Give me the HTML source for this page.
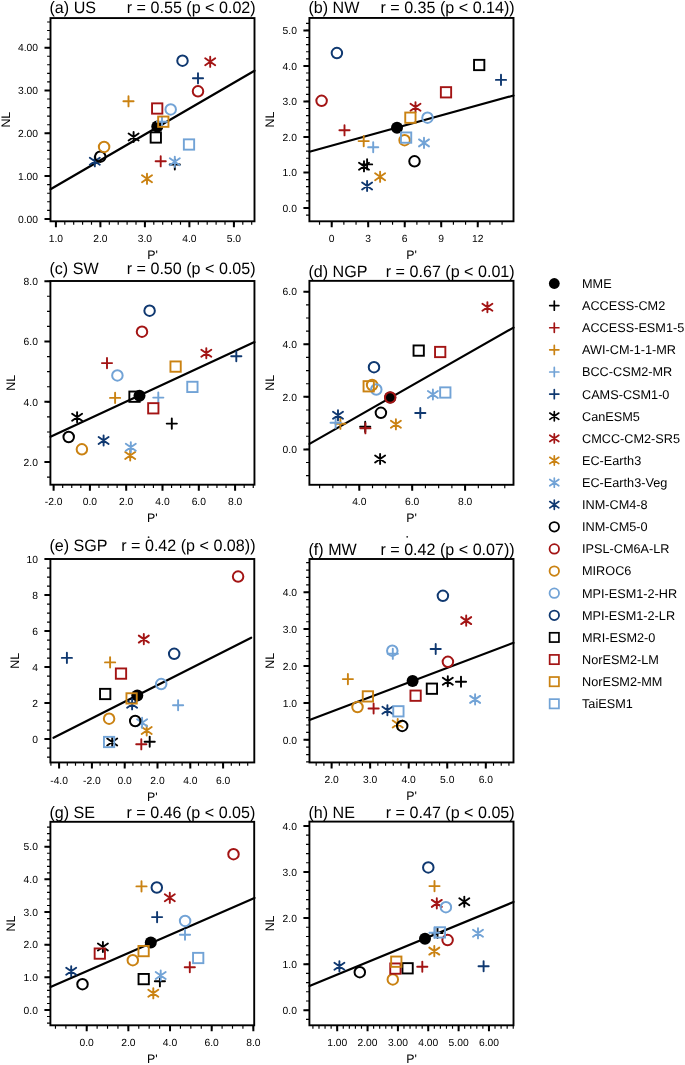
<!DOCTYPE html>
<html><head><meta charset="utf-8"><title>NL vs P</title><style>html,body{margin:0;padding:0;background:#fff;overflow:hidden;}svg{display:block;will-change:transform;}text{font-family:"Liberation Sans",sans-serif;text-rendering:geometricPrecision;}</style></head><body><svg width="685" height="1065" viewBox="0 0 685 1065" font-family='"Liberation Sans", sans-serif'><line x1="50.5" y1="189.3" x2="254.5" y2="70.7" stroke="#000" stroke-width="2.2" stroke-linecap="round"/><circle cx="157.3" cy="126.6" r="6" fill="#000000"/><path d="M169.7 164.5H179.9M174.8 159.4V169.6" stroke="#000000" stroke-width="1.9" stroke-linecap="round" fill="none"/><path d="M155.6 161.3H165.8M160.7 156.2V166.4" stroke="#a31414" stroke-width="1.9" stroke-linecap="round" fill="none"/><path d="M123.4 101.3H133.6M128.5 96.2V106.4" stroke="#ca8212" stroke-width="1.9" stroke-linecap="round" fill="none"/><path d="M156.9 121.7H167.1M162 116.6V126.8" stroke="#72a3d6" stroke-width="1.9" stroke-linecap="round" fill="none"/><path d="M192.9 78.3H203.1M198 73.2V83.4" stroke="#0f3870" stroke-width="1.9" stroke-linecap="round" fill="none"/><path d="M133.6 131.9V142.1M128.6 133.5L138.6 140.5M128.6 140.5L138.6 133.5" stroke="#000000" stroke-width="1.9" stroke-linecap="round" fill="none"/><path d="M210.2 56.7V66.9M205.2 58.3L215.2 65.3M205.2 65.3L215.2 58.3" stroke="#a31414" stroke-width="1.9" stroke-linecap="round" fill="none"/><path d="M147 173.7V183.9M142 175.3L152 182.3M142 182.3L152 175.3" stroke="#ca8212" stroke-width="1.9" stroke-linecap="round" fill="none"/><path d="M174.8 156.7V166.9M169.8 158.3L179.8 165.3M169.8 165.3L179.8 158.3" stroke="#72a3d6" stroke-width="1.9" stroke-linecap="round" fill="none"/><path d="M94.8 156.2V166.4M89.8 157.8L99.8 164.8M89.8 164.8L99.8 157.8" stroke="#0f3870" stroke-width="1.9" stroke-linecap="round" fill="none"/><circle cx="100.3" cy="156.7" r="5.25" stroke="#000000" stroke-width="2" fill="none"/><circle cx="198" cy="91.3" r="5.25" stroke="#a31414" stroke-width="2" fill="none"/><circle cx="104.1" cy="146.9" r="5.25" stroke="#ca8212" stroke-width="2" fill="none"/><circle cx="170.7" cy="109.4" r="5.25" stroke="#72a3d6" stroke-width="2" fill="none"/><circle cx="182.5" cy="60.7" r="5.25" stroke="#0f3870" stroke-width="2" fill="none"/><rect x="150.65" y="132.35" width="10.3" height="10.3" stroke="#000000" stroke-width="1.9" fill="none"/><rect x="152.05" y="103.35" width="10.3" height="10.3" stroke="#a31414" stroke-width="1.9" fill="none"/><rect x="158.15" y="116.55" width="10.3" height="10.3" stroke="#ca8212" stroke-width="1.9" fill="none"/><rect x="183.85" y="139.35" width="10.3" height="10.3" stroke="#72a3d6" stroke-width="1.9" fill="none"/><path d="M50.5 218.9H44.5M50.5 176.09H44.5M50.5 133.28H44.5M50.5 90.47H44.5M50.5 47.66H44.5M55.9 221.3V227.3M100.4 221.3V227.3M144.9 221.3V227.3M189.4 221.3V227.3M233.9 221.3V227.3" stroke="#000" stroke-width="2.0" fill="none"/><path d="M50.5 218.9H47.1M50.5 210.34H47.1M50.5 201.78H47.1M50.5 193.21H47.1M50.5 184.65H47.1M50.5 176.09H47.1M50.5 167.53H47.1M50.5 158.97H47.1M50.5 150.4H47.1M50.5 141.84H47.1M50.5 133.28H47.1M50.5 124.72H47.1M50.5 116.16H47.1M50.5 107.59H47.1M50.5 99.03H47.1M50.5 90.47H47.1M50.5 81.91H47.1M50.5 73.35H47.1M50.5 64.78H47.1M50.5 56.22H47.1M50.5 47.66H47.1M50.5 39.1H47.1M50.5 30.54H47.1M50.5 21.97H47.1M55.9 221.3V224.7M64.8 221.3V224.7M73.7 221.3V224.7M82.6 221.3V224.7M91.5 221.3V224.7M100.4 221.3V224.7M109.3 221.3V224.7M118.2 221.3V224.7M127.1 221.3V224.7M136 221.3V224.7M144.9 221.3V224.7M153.8 221.3V224.7M162.7 221.3V224.7M171.6 221.3V224.7M180.5 221.3V224.7M189.4 221.3V224.7M198.3 221.3V224.7M207.2 221.3V224.7M216.1 221.3V224.7M225 221.3V224.7M233.9 221.3V224.7M242.8 221.3V224.7M251.7 221.3V224.7" stroke="#000" stroke-width="1.15" fill="none"/><rect x="50.5" y="18.07" width="204" height="203.23" stroke="#000" stroke-width="1.9" fill="none"/><g fill="#000"><text x="38" y="222.6" text-anchor="end" font-size="10.3">0.00</text><text x="38" y="179.79" text-anchor="end" font-size="10.3">1.00</text><text x="38" y="136.98" text-anchor="end" font-size="10.3">2.00</text><text x="38" y="94.17" text-anchor="end" font-size="10.3">3.00</text><text x="38" y="51.36" text-anchor="end" font-size="10.3">4.00</text><text x="55.9" y="242.2" text-anchor="middle" font-size="10.3">1.0</text><text x="100.4" y="242.2" text-anchor="middle" font-size="10.3">2.0</text><text x="144.9" y="242.2" text-anchor="middle" font-size="10.3">3.0</text><text x="189.4" y="242.2" text-anchor="middle" font-size="10.3">4.0</text><text x="233.9" y="242.2" text-anchor="middle" font-size="10.3">5.0</text></g><text x="152.5" y="259.2" text-anchor="middle" font-size="12.4" fill="#000">P'</text><text transform="translate(9.6 119.69) rotate(-90)" x="0" y="0" text-anchor="middle" font-size="12.4" fill="#000">NL</text><text transform="translate(49.5 13.4) scale(0.976 1)" font-size="16.5" fill="#000">(a) US</text><text transform="translate(255.7 13.4) scale(0.976 1)" text-anchor="end" font-size="16.5" fill="#000">r = 0.55 (p &lt; 0.02)</text><line x1="309.5" y1="151.8" x2="513.5" y2="95.5" stroke="#000" stroke-width="2.2" stroke-linecap="round"/><circle cx="397" cy="127.8" r="6" fill="#000000"/><path d="M362 164.4H372.2M367.1 159.3V169.5" stroke="#000000" stroke-width="1.9" stroke-linecap="round" fill="none"/><path d="M339.4 130.3H349.6M344.5 125.2V135.4" stroke="#a31414" stroke-width="1.9" stroke-linecap="round" fill="none"/><path d="M358.6 141.1H368.8M363.7 136V146.2" stroke="#ca8212" stroke-width="1.9" stroke-linecap="round" fill="none"/><path d="M368.1 147.2H378.3M373.2 142.1V152.3" stroke="#72a3d6" stroke-width="1.9" stroke-linecap="round" fill="none"/><path d="M495.9 79.9H506.1M501 74.8V85" stroke="#0f3870" stroke-width="1.9" stroke-linecap="round" fill="none"/><path d="M364 161.2V171.4M359 162.8L369 169.8M359 169.8L369 162.8" stroke="#000000" stroke-width="1.9" stroke-linecap="round" fill="none"/><path d="M415.5 102.1V112.3M410.5 103.7L420.5 110.7M410.5 110.7L420.5 103.7" stroke="#a31414" stroke-width="1.9" stroke-linecap="round" fill="none"/><path d="M380.1 171.7V181.9M375.1 173.3L385.1 180.3M375.1 180.3L385.1 173.3" stroke="#ca8212" stroke-width="1.9" stroke-linecap="round" fill="none"/><path d="M424 137.8V148M419 139.4L429 146.4M419 146.4L429 139.4" stroke="#72a3d6" stroke-width="1.9" stroke-linecap="round" fill="none"/><path d="M367.1 180.9V191.1M362.1 182.5L372.1 189.5M362.1 189.5L372.1 182.5" stroke="#0f3870" stroke-width="1.9" stroke-linecap="round" fill="none"/><circle cx="414.5" cy="161.3" r="5.25" stroke="#000000" stroke-width="2" fill="none"/><circle cx="321.6" cy="100.8" r="5.25" stroke="#a31414" stroke-width="2" fill="none"/><circle cx="404.6" cy="140.2" r="5.25" stroke="#ca8212" stroke-width="2" fill="none"/><circle cx="427.5" cy="117.7" r="5.25" stroke="#72a3d6" stroke-width="2" fill="none"/><circle cx="336.9" cy="53.1" r="5.25" stroke="#0f3870" stroke-width="2" fill="none"/><rect x="474.05" y="59.85" width="10.3" height="10.3" stroke="#000000" stroke-width="1.9" fill="none"/><rect x="440.85" y="87.15" width="10.3" height="10.3" stroke="#a31414" stroke-width="1.9" fill="none"/><rect x="405.25" y="112.55" width="10.3" height="10.3" stroke="#ca8212" stroke-width="1.9" fill="none"/><rect x="400.95" y="132.45" width="10.3" height="10.3" stroke="#72a3d6" stroke-width="1.9" fill="none"/><path d="M309.4 208H303.4M309.4 172.48H303.4M309.4 136.96H303.4M309.4 101.44H303.4M309.4 65.92H303.4M309.4 30.4H303.4M331.7 221.3V227.3M368.21 221.3V227.3M404.72 221.3V227.3M441.23 221.3V227.3M477.74 221.3V227.3" stroke="#000" stroke-width="2.0" fill="none"/><path d="M309.4 215.1H306M309.4 208H306M309.4 200.9H306M309.4 193.79H306M309.4 186.69H306M309.4 179.58H306M309.4 172.48H306M309.4 165.38H306M309.4 158.27H306M309.4 151.17H306M309.4 144.06H306M309.4 136.96H306M309.4 129.86H306M309.4 122.75H306M309.4 115.65H306M309.4 108.54H306M309.4 101.44H306M309.4 94.34H306M309.4 87.23H306M309.4 80.13H306M309.4 73.02H306M309.4 65.92H306M309.4 58.82H306M309.4 51.71H306M309.4 44.61H306M309.4 37.5H306M309.4 30.4H306M309.4 23.3H306M319.53 221.3V224.7M331.7 221.3V224.7M343.87 221.3V224.7M356.04 221.3V224.7M368.21 221.3V224.7M380.38 221.3V224.7M392.55 221.3V224.7M404.72 221.3V224.7M416.89 221.3V224.7M429.06 221.3V224.7M441.23 221.3V224.7M453.4 221.3V224.7M465.57 221.3V224.7M477.74 221.3V224.7M489.91 221.3V224.7M502.08 221.3V224.7" stroke="#000" stroke-width="1.15" fill="none"/><rect x="309.4" y="17.95" width="204.1" height="203.35" stroke="#000" stroke-width="1.9" fill="none"/><g fill="#000"><text x="296.9" y="211.7" text-anchor="end" font-size="10.3">0.0</text><text x="296.9" y="176.18" text-anchor="end" font-size="10.3">1.0</text><text x="296.9" y="140.66" text-anchor="end" font-size="10.3">2.0</text><text x="296.9" y="105.14" text-anchor="end" font-size="10.3">3.0</text><text x="296.9" y="69.62" text-anchor="end" font-size="10.3">4.0</text><text x="296.9" y="34.1" text-anchor="end" font-size="10.3">5.0</text><text x="331.7" y="242.2" text-anchor="middle" font-size="10.3">0</text><text x="368.21" y="242.2" text-anchor="middle" font-size="10.3">3</text><text x="404.72" y="242.2" text-anchor="middle" font-size="10.3">6</text><text x="441.23" y="242.2" text-anchor="middle" font-size="10.3">9</text><text x="477.74" y="242.2" text-anchor="middle" font-size="10.3">12</text></g><text x="411.45" y="259.2" text-anchor="middle" font-size="12.4" fill="#000">P'</text><text transform="translate(274.1 119.62) rotate(-90)" x="0" y="0" text-anchor="middle" font-size="12.4" fill="#000">NL</text><text transform="translate(308.4 13.4) scale(0.976 1)" font-size="16.5" fill="#000">(b) NW</text><text transform="translate(514.7 13.4) scale(0.976 1)" text-anchor="end" font-size="16.5" fill="#000">r = 0.35 (p &lt; 0.14))</text><line x1="50.5" y1="436.7" x2="254.5" y2="342.1" stroke="#000" stroke-width="2.2" stroke-linecap="round"/><circle cx="139.5" cy="395.8" r="6" fill="#000000"/><path d="M166.7 423.6H176.9M171.8 418.5V428.7" stroke="#000000" stroke-width="1.9" stroke-linecap="round" fill="none"/><path d="M101.9 363.1H112.1M107 358V368.2" stroke="#a31414" stroke-width="1.9" stroke-linecap="round" fill="none"/><path d="M110 397.9H120.2M115.1 392.8V403" stroke="#ca8212" stroke-width="1.9" stroke-linecap="round" fill="none"/><path d="M153.2 397.6H163.4M158.3 392.5V402.7" stroke="#72a3d6" stroke-width="1.9" stroke-linecap="round" fill="none"/><path d="M231.2 356.2H241.4M236.3 351.1V361.3" stroke="#0f3870" stroke-width="1.9" stroke-linecap="round" fill="none"/><path d="M77.1 412.1V422.3M72.1 413.7L82.1 420.7M72.1 420.7L82.1 413.7" stroke="#000000" stroke-width="1.9" stroke-linecap="round" fill="none"/><path d="M206.3 348.1V358.3M201.3 349.7L211.3 356.7M201.3 356.7L211.3 349.7" stroke="#a31414" stroke-width="1.9" stroke-linecap="round" fill="none"/><path d="M130.2 450.4V460.6M125.2 452L135.2 459M125.2 459L135.2 452" stroke="#ca8212" stroke-width="1.9" stroke-linecap="round" fill="none"/><path d="M130.8 442.1V452.3M125.8 443.7L135.8 450.7M125.8 450.7L135.8 443.7" stroke="#72a3d6" stroke-width="1.9" stroke-linecap="round" fill="none"/><path d="M103.6 435.4V445.6M98.6 437L108.6 444M98.6 444L108.6 437" stroke="#0f3870" stroke-width="1.9" stroke-linecap="round" fill="none"/><circle cx="68.7" cy="437" r="5.25" stroke="#000000" stroke-width="2" fill="none"/><circle cx="142" cy="331.7" r="5.25" stroke="#a31414" stroke-width="2" fill="none"/><circle cx="81.9" cy="449.3" r="5.25" stroke="#ca8212" stroke-width="2" fill="none"/><circle cx="117.4" cy="375.4" r="5.25" stroke="#72a3d6" stroke-width="2" fill="none"/><circle cx="149.6" cy="310.7" r="5.25" stroke="#0f3870" stroke-width="2" fill="none"/><rect x="129.35" y="391.55" width="10.3" height="10.3" stroke="#000000" stroke-width="1.9" fill="none"/><rect x="148.15" y="403.15" width="10.3" height="10.3" stroke="#a31414" stroke-width="1.9" fill="none"/><rect x="170.45" y="361.45" width="10.3" height="10.3" stroke="#ca8212" stroke-width="1.9" fill="none"/><rect x="187.25" y="381.75" width="10.3" height="10.3" stroke="#72a3d6" stroke-width="1.9" fill="none"/><path d="M50.4 462.1H44.4M50.4 401.8H44.4M50.4 341.5H44.4M50.4 281.2H44.4M53.6 484.7V490.7M89.9 484.7V490.7M126.2 484.7V490.7M162.5 484.7V490.7M198.8 484.7V490.7M235.1 484.7V490.7" stroke="#000" stroke-width="2.0" fill="none"/><path d="M50.4 477.17H47M50.4 462.1H47M50.4 447.02H47M50.4 431.95H47M50.4 416.88H47M50.4 401.8H47M50.4 386.73H47M50.4 371.65H47M50.4 356.57H47M50.4 341.5H47M50.4 326.42H47M50.4 311.35H47M50.4 296.27H47M50.4 281.2H47M53.6 484.7V488.1M62.68 484.7V488.1M71.75 484.7V488.1M80.83 484.7V488.1M89.9 484.7V488.1M98.98 484.7V488.1M108.05 484.7V488.1M117.12 484.7V488.1M126.2 484.7V488.1M135.28 484.7V488.1M144.35 484.7V488.1M153.43 484.7V488.1M162.5 484.7V488.1M171.57 484.7V488.1M180.65 484.7V488.1M189.72 484.7V488.1M198.8 484.7V488.1M207.88 484.7V488.1M216.95 484.7V488.1M226.03 484.7V488.1M235.1 484.7V488.1M244.17 484.7V488.1M253.25 484.7V488.1" stroke="#000" stroke-width="1.15" fill="none"/><rect x="50.4" y="281" width="204.05" height="203.7" stroke="#000" stroke-width="1.9" fill="none"/><g fill="#000"><text x="37.9" y="465.8" text-anchor="end" font-size="10.3">2.0</text><text x="37.9" y="405.5" text-anchor="end" font-size="10.3">4.0</text><text x="37.9" y="345.2" text-anchor="end" font-size="10.3">6.0</text><text x="37.9" y="284.9" text-anchor="end" font-size="10.3">8.0</text><text x="53.6" y="505.1" text-anchor="middle" font-size="10.3">-2.0</text><text x="89.9" y="505.1" text-anchor="middle" font-size="10.3">0.0</text><text x="126.2" y="505.1" text-anchor="middle" font-size="10.3">2.0</text><text x="162.5" y="505.1" text-anchor="middle" font-size="10.3">4.0</text><text x="198.8" y="505.1" text-anchor="middle" font-size="10.3">6.0</text><text x="235.1" y="505.1" text-anchor="middle" font-size="10.3">8.0</text></g><text x="152.42" y="521.5" text-anchor="middle" font-size="12.4" fill="#000">P'</text><text transform="translate(15.3 382.85) rotate(-90)" x="0" y="0" text-anchor="middle" font-size="12.4" fill="#000">NL</text><text transform="translate(49.4 273.6) scale(0.976 1)" font-size="16.5" fill="#000">(c) SW</text><text transform="translate(255.65 273.6) scale(0.976 1)" text-anchor="end" font-size="16.5" fill="#000">r = 0.50 (p &lt; 0.05)</text><line x1="309.5" y1="443.9" x2="513.5" y2="327.6" stroke="#000" stroke-width="2.2" stroke-linecap="round"/><circle cx="390.2" cy="397.5" r="6" fill="#000000"/><path d="M360.1 426.8H370.3M365.2 421.7V431.9" stroke="#000000" stroke-width="1.9" stroke-linecap="round" fill="none"/><path d="M360.3 428.3H370.5M365.4 423.2V433.4" stroke="#a31414" stroke-width="1.9" stroke-linecap="round" fill="none"/><path d="M335.3 423.8H345.5M340.4 418.7V428.9" stroke="#ca8212" stroke-width="1.9" stroke-linecap="round" fill="none"/><path d="M330.5 422.8H340.7M335.6 417.7V427.9" stroke="#72a3d6" stroke-width="1.9" stroke-linecap="round" fill="none"/><path d="M415.2 413H425.4M420.3 407.9V418.1" stroke="#0f3870" stroke-width="1.9" stroke-linecap="round" fill="none"/><path d="M380.1 453.9V464.1M375.1 455.5L385.1 462.5M375.1 462.5L385.1 455.5" stroke="#000000" stroke-width="1.9" stroke-linecap="round" fill="none"/><path d="M487.4 302.1V312.3M482.4 303.7L492.4 310.7M482.4 310.7L492.4 303.7" stroke="#a31414" stroke-width="1.9" stroke-linecap="round" fill="none"/><path d="M395.9 419.2V429.4M390.9 420.8L400.9 427.8M390.9 427.8L400.9 420.8" stroke="#ca8212" stroke-width="1.9" stroke-linecap="round" fill="none"/><path d="M432.9 389.4V399.6M427.9 391L437.9 398M427.9 398L437.9 391" stroke="#72a3d6" stroke-width="1.9" stroke-linecap="round" fill="none"/><path d="M338 410.2V420.4M333 411.8L343 418.8M333 418.8L343 411.8" stroke="#0f3870" stroke-width="1.9" stroke-linecap="round" fill="none"/><circle cx="380.9" cy="412.8" r="5.25" stroke="#000000" stroke-width="2" fill="none"/><circle cx="390.2" cy="397.5" r="5.25" stroke="#a31414" stroke-width="2" fill="none"/><circle cx="372.1" cy="385" r="5.25" stroke="#ca8212" stroke-width="2" fill="none"/><circle cx="376.3" cy="389.5" r="5.25" stroke="#72a3d6" stroke-width="2" fill="none"/><circle cx="374" cy="367.2" r="5.25" stroke="#0f3870" stroke-width="2" fill="none"/><rect x="413.55" y="345.45" width="10.3" height="10.3" stroke="#000000" stroke-width="1.9" fill="none"/><rect x="435.05" y="346.85" width="10.3" height="10.3" stroke="#a31414" stroke-width="1.9" fill="none"/><rect x="363.55" y="381.15" width="10.3" height="10.3" stroke="#ca8212" stroke-width="1.9" fill="none"/><rect x="440.15" y="387.35" width="10.3" height="10.3" stroke="#72a3d6" stroke-width="1.9" fill="none"/><path d="M309.4 449.4H303.4M309.4 396.84H303.4M309.4 344.28H303.4M309.4 291.72H303.4M359.3 484.8V490.8M412.2 484.8V490.8M465.1 484.8V490.8" stroke="#000" stroke-width="2.0" fill="none"/><path d="M309.4 475.68H306M309.4 462.54H306M309.4 449.4H306M309.4 436.26H306M309.4 423.12H306M309.4 409.98H306M309.4 396.84H306M309.4 383.7H306M309.4 370.56H306M309.4 357.42H306M309.4 344.28H306M309.4 331.14H306M309.4 318H306M309.4 304.86H306M309.4 291.72H306M319.62 484.8V488.2M332.85 484.8V488.2M346.07 484.8V488.2M359.3 484.8V488.2M372.52 484.8V488.2M385.75 484.8V488.2M398.98 484.8V488.2M412.2 484.8V488.2M425.42 484.8V488.2M438.65 484.8V488.2M451.88 484.8V488.2M465.1 484.8V488.2M478.32 484.8V488.2M491.55 484.8V488.2M504.77 484.8V488.2" stroke="#000" stroke-width="1.15" fill="none"/><rect x="309.4" y="280.85" width="204.1" height="203.95" stroke="#000" stroke-width="1.9" fill="none"/><g fill="#000"><text x="296.9" y="453.1" text-anchor="end" font-size="10.3">0.0</text><text x="296.9" y="400.54" text-anchor="end" font-size="10.3">2.0</text><text x="296.9" y="347.98" text-anchor="end" font-size="10.3">4.0</text><text x="296.9" y="295.42" text-anchor="end" font-size="10.3">6.0</text><text x="359.3" y="505.2" text-anchor="middle" font-size="10.3">4.0</text><text x="412.2" y="505.2" text-anchor="middle" font-size="10.3">6.0</text><text x="465.1" y="505.2" text-anchor="middle" font-size="10.3">8.0</text></g><text x="411.45" y="522.2" text-anchor="middle" font-size="12.4" fill="#000">P'</text><text transform="translate(274.3 382.83) rotate(-90)" x="0" y="0" text-anchor="middle" font-size="12.4" fill="#000">NL</text><text transform="translate(308.4 276.6) scale(0.976 1)" font-size="16.5" fill="#000">(d) NGP</text><text transform="translate(514.7 276.6) scale(0.976 1)" text-anchor="end" font-size="16.5" fill="#000">r = 0.67 (p &lt; 0.01)</text><line x1="53.5" y1="737.8" x2="251.2" y2="637.7" stroke="#000" stroke-width="2.2" stroke-linecap="round"/><circle cx="137.3" cy="695.5" r="6" fill="#000000"/><path d="M144.6 741.7H154.8M149.7 736.6V746.8" stroke="#000000" stroke-width="1.9" stroke-linecap="round" fill="none"/><path d="M136.2 744.3H146.4M141.3 739.2V749.4" stroke="#a31414" stroke-width="1.9" stroke-linecap="round" fill="none"/><path d="M105 662.4H115.2M110.1 657.3V667.5" stroke="#ca8212" stroke-width="1.9" stroke-linecap="round" fill="none"/><path d="M173 705.2H183.2M178.1 700.1V710.3" stroke="#72a3d6" stroke-width="1.9" stroke-linecap="round" fill="none"/><path d="M61.8 657.9H72M66.9 652.8V663" stroke="#0f3870" stroke-width="1.9" stroke-linecap="round" fill="none"/><path d="M112.2 736.9V747.1M107.2 738.5L117.2 745.5M107.2 745.5L117.2 738.5" stroke="#000000" stroke-width="1.9" stroke-linecap="round" fill="none"/><path d="M143.8 634V644.2M138.8 635.6L148.8 642.6M138.8 642.6L148.8 635.6" stroke="#a31414" stroke-width="1.9" stroke-linecap="round" fill="none"/><path d="M146.7 725.4V735.6M141.7 727L151.7 734M141.7 734L151.7 727" stroke="#ca8212" stroke-width="1.9" stroke-linecap="round" fill="none"/><path d="M142.1 717.7V727.9M137.1 719.3L147.1 726.3M137.1 726.3L147.1 719.3" stroke="#72a3d6" stroke-width="1.9" stroke-linecap="round" fill="none"/><path d="M132.1 699.2V709.4M127.1 700.8L137.1 707.8M127.1 707.8L137.1 700.8" stroke="#0f3870" stroke-width="1.9" stroke-linecap="round" fill="none"/><circle cx="135.2" cy="721" r="5.25" stroke="#000000" stroke-width="2" fill="none"/><circle cx="238.1" cy="576.6" r="5.25" stroke="#a31414" stroke-width="2" fill="none"/><circle cx="109.1" cy="718.7" r="5.25" stroke="#ca8212" stroke-width="2" fill="none"/><circle cx="161.2" cy="684.1" r="5.25" stroke="#72a3d6" stroke-width="2" fill="none"/><circle cx="174.2" cy="653.8" r="5.25" stroke="#0f3870" stroke-width="2" fill="none"/><rect x="100.05" y="688.85" width="10.3" height="10.3" stroke="#000000" stroke-width="1.9" fill="none"/><rect x="115.85" y="668.45" width="10.3" height="10.3" stroke="#a31414" stroke-width="1.9" fill="none"/><rect x="126.45" y="693.25" width="10.3" height="10.3" stroke="#ca8212" stroke-width="1.9" fill="none"/><rect x="103.95" y="736.85" width="10.3" height="10.3" stroke="#72a3d6" stroke-width="1.9" fill="none"/><path d="M50.4 739.1H44.4M50.4 703.1H44.4M50.4 667.1H44.4M50.4 631.1H44.4M50.4 595.1H44.4M50.4 559.1H44.4M59.1 762.45V768.45M91.9 762.45V768.45M124.7 762.45V768.45M157.5 762.45V768.45M190.3 762.45V768.45M223.1 762.45V768.45" stroke="#000" stroke-width="2.0" fill="none"/><path d="M50.4 757.1H47M50.4 748.1H47M50.4 739.1H47M50.4 730.1H47M50.4 721.1H47M50.4 712.1H47M50.4 703.1H47M50.4 694.1H47M50.4 685.1H47M50.4 676.1H47M50.4 667.1H47M50.4 658.1H47M50.4 649.1H47M50.4 640.1H47M50.4 631.1H47M50.4 622.1H47M50.4 613.1H47M50.4 604.1H47M50.4 595.1H47M50.4 586.1H47M50.4 577.1H47M50.4 568.1H47M50.4 559.1H47M50.9 762.45V765.85M59.1 762.45V765.85M67.3 762.45V765.85M75.5 762.45V765.85M83.7 762.45V765.85M91.9 762.45V765.85M100.1 762.45V765.85M108.3 762.45V765.85M116.5 762.45V765.85M124.7 762.45V765.85M132.9 762.45V765.85M141.1 762.45V765.85M149.3 762.45V765.85M157.5 762.45V765.85M165.7 762.45V765.85M173.9 762.45V765.85M182.1 762.45V765.85M190.3 762.45V765.85M198.5 762.45V765.85M206.7 762.45V765.85M214.9 762.45V765.85M223.1 762.45V765.85M231.3 762.45V765.85M239.5 762.45V765.85M247.7 762.45V765.85" stroke="#000" stroke-width="1.15" fill="none"/><rect x="50.4" y="559" width="203.9" height="203.45" stroke="#000" stroke-width="1.9" fill="none"/><g fill="#000"><text x="37.9" y="742.8" text-anchor="end" font-size="10.3">0</text><text x="37.9" y="706.8" text-anchor="end" font-size="10.3">2</text><text x="37.9" y="670.8" text-anchor="end" font-size="10.3">4</text><text x="37.9" y="634.8" text-anchor="end" font-size="10.3">6</text><text x="37.9" y="598.8" text-anchor="end" font-size="10.3">8</text><text x="37.9" y="562.8" text-anchor="end" font-size="10.3">10</text><text x="59.1" y="783.7" text-anchor="middle" font-size="10.3">-4.0</text><text x="91.9" y="783.7" text-anchor="middle" font-size="10.3">-2.0</text><text x="124.7" y="783.7" text-anchor="middle" font-size="10.3">0.0</text><text x="157.5" y="783.7" text-anchor="middle" font-size="10.3">2.0</text><text x="190.3" y="783.7" text-anchor="middle" font-size="10.3">4.0</text><text x="223.1" y="783.7" text-anchor="middle" font-size="10.3">6.0</text></g><text x="152.35" y="800.7" text-anchor="middle" font-size="12.4" fill="#000">P'</text><text transform="translate(19.1 660.73) rotate(-90)" x="0" y="0" text-anchor="middle" font-size="12.4" fill="#000">NL</text><text transform="translate(49.4 551.3) scale(0.976 1)" font-size="16.5" fill="#000">(e) SGP</text><text transform="translate(255.5 551.3) scale(0.976 1)" text-anchor="end" font-size="16.5" fill="#000">r = 0.42 (p &lt; 0.08))</text><line x1="309.5" y1="720" x2="513.5" y2="642.8" stroke="#000" stroke-width="2.2" stroke-linecap="round"/><circle cx="412.6" cy="681" r="6" fill="#000000"/><path d="M455.9 681.7H466.1M461 676.6V686.8" stroke="#000000" stroke-width="1.9" stroke-linecap="round" fill="none"/><path d="M368.5 708.5H378.7M373.6 703.4V713.6" stroke="#a31414" stroke-width="1.9" stroke-linecap="round" fill="none"/><path d="M342.8 679.1H353M347.9 674V684.2" stroke="#ca8212" stroke-width="1.9" stroke-linecap="round" fill="none"/><path d="M387.7 653.8H397.9M392.8 648.7V658.9" stroke="#72a3d6" stroke-width="1.9" stroke-linecap="round" fill="none"/><path d="M430.6 649H440.8M435.7 643.9V654.1" stroke="#0f3870" stroke-width="1.9" stroke-linecap="round" fill="none"/><path d="M447.8 676.1V686.3M442.8 677.7L452.8 684.7M442.8 684.7L452.8 677.7" stroke="#000000" stroke-width="1.9" stroke-linecap="round" fill="none"/><path d="M466.2 615.5V625.7M461.2 617.1L471.2 624.1M461.2 624.1L471.2 617.1" stroke="#a31414" stroke-width="1.9" stroke-linecap="round" fill="none"/><path d="M397.7 718.9V729.1M392.7 720.5L402.7 727.5M392.7 727.5L402.7 720.5" stroke="#ca8212" stroke-width="1.9" stroke-linecap="round" fill="none"/><path d="M475.1 694.3V704.5M470.1 695.9L480.1 702.9M470.1 702.9L480.1 695.9" stroke="#72a3d6" stroke-width="1.9" stroke-linecap="round" fill="none"/><path d="M387.4 705.1V715.3M382.4 706.7L392.4 713.7M382.4 713.7L392.4 706.7" stroke="#0f3870" stroke-width="1.9" stroke-linecap="round" fill="none"/><circle cx="402.2" cy="725.9" r="5.25" stroke="#000000" stroke-width="2" fill="none"/><circle cx="447.9" cy="661.8" r="5.25" stroke="#a31414" stroke-width="2" fill="none"/><circle cx="357.5" cy="707" r="5.25" stroke="#ca8212" stroke-width="2" fill="none"/><circle cx="392.3" cy="650.7" r="5.25" stroke="#72a3d6" stroke-width="2" fill="none"/><circle cx="442.9" cy="595.8" r="5.25" stroke="#0f3870" stroke-width="2" fill="none"/><rect x="426.75" y="683.55" width="10.3" height="10.3" stroke="#000000" stroke-width="1.9" fill="none"/><rect x="410.45" y="690.55" width="10.3" height="10.3" stroke="#a31414" stroke-width="1.9" fill="none"/><rect x="362.75" y="691.25" width="10.3" height="10.3" stroke="#ca8212" stroke-width="1.9" fill="none"/><rect x="393.25" y="706.15" width="10.3" height="10.3" stroke="#72a3d6" stroke-width="1.9" fill="none"/><path d="M309.5 739.8H303.5M309.5 702.9H303.5M309.5 666H303.5M309.5 629.1H303.5M309.5 592.2H303.5M331.6 762.45V768.45M370.15 762.45V768.45M408.7 762.45V768.45M447.25 762.45V768.45M485.8 762.45V768.45" stroke="#000" stroke-width="2.0" fill="none"/><path d="M309.5 761.94H306.1M309.5 754.56H306.1M309.5 747.18H306.1M309.5 739.8H306.1M309.5 732.42H306.1M309.5 725.04H306.1M309.5 717.66H306.1M309.5 710.28H306.1M309.5 702.9H306.1M309.5 695.52H306.1M309.5 688.14H306.1M309.5 680.76H306.1M309.5 673.38H306.1M309.5 666H306.1M309.5 658.62H306.1M309.5 651.24H306.1M309.5 643.86H306.1M309.5 636.48H306.1M309.5 629.1H306.1M309.5 621.72H306.1M309.5 614.34H306.1M309.5 606.96H306.1M309.5 599.58H306.1M309.5 592.2H306.1M309.5 584.82H306.1M309.5 577.44H306.1M309.5 570.06H306.1M309.5 562.68H306.1M316.18 762.45V765.85M323.89 762.45V765.85M331.6 762.45V765.85M339.31 762.45V765.85M347.02 762.45V765.85M354.73 762.45V765.85M362.44 762.45V765.85M370.15 762.45V765.85M377.86 762.45V765.85M385.57 762.45V765.85M393.28 762.45V765.85M400.99 762.45V765.85M408.7 762.45V765.85M416.41 762.45V765.85M424.12 762.45V765.85M431.83 762.45V765.85M439.54 762.45V765.85M447.25 762.45V765.85M454.96 762.45V765.85M462.67 762.45V765.85M470.38 762.45V765.85M478.09 762.45V765.85M485.8 762.45V765.85M493.51 762.45V765.85M501.22 762.45V765.85M508.93 762.45V765.85" stroke="#000" stroke-width="1.15" fill="none"/><rect x="309.5" y="559" width="204" height="203.45" stroke="#000" stroke-width="1.9" fill="none"/><g fill="#000"><text x="297" y="743.5" text-anchor="end" font-size="10.3">0.0</text><text x="297" y="706.6" text-anchor="end" font-size="10.3">1.0</text><text x="297" y="669.7" text-anchor="end" font-size="10.3">2.0</text><text x="297" y="632.8" text-anchor="end" font-size="10.3">3.0</text><text x="297" y="595.9" text-anchor="end" font-size="10.3">4.0</text><text x="331.6" y="783.2" text-anchor="middle" font-size="10.3">2.0</text><text x="370.15" y="783.2" text-anchor="middle" font-size="10.3">3.0</text><text x="408.7" y="783.2" text-anchor="middle" font-size="10.3">4.0</text><text x="447.25" y="783.2" text-anchor="middle" font-size="10.3">5.0</text><text x="485.8" y="783.2" text-anchor="middle" font-size="10.3">6.0</text></g><text x="411.5" y="800.2" text-anchor="middle" font-size="12.4" fill="#000">P'</text><text transform="translate(274.3 660.73) rotate(-90)" x="0" y="0" text-anchor="middle" font-size="12.4" fill="#000">NL</text><text transform="translate(308.5 555.1) scale(0.976 1)" font-size="16.5" fill="#000">(f) MW</text><text transform="translate(514.7 555.1) scale(0.976 1)" text-anchor="end" font-size="16.5" fill="#000">r = 0.42 (p &lt; 0.07))</text><line x1="50.5" y1="987" x2="254.5" y2="897.9" stroke="#000" stroke-width="2.2" stroke-linecap="round"/><circle cx="150.8" cy="942.5" r="6" fill="#000000"/><path d="M154.8 981.3H165M159.9 976.2V986.4" stroke="#000000" stroke-width="1.9" stroke-linecap="round" fill="none"/><path d="M184.7 967.2H194.9M189.8 962.1V972.3" stroke="#a31414" stroke-width="1.9" stroke-linecap="round" fill="none"/><path d="M136.4 886.4H146.6M141.5 881.3V891.5" stroke="#ca8212" stroke-width="1.9" stroke-linecap="round" fill="none"/><path d="M179.9 934.7H190.1M185 929.6V939.8" stroke="#72a3d6" stroke-width="1.9" stroke-linecap="round" fill="none"/><path d="M152 917.1H162.2M157.1 912V922.2" stroke="#0f3870" stroke-width="1.9" stroke-linecap="round" fill="none"/><path d="M102.9 941.9V952.1M97.9 943.5L107.9 950.5M97.9 950.5L107.9 943.5" stroke="#000000" stroke-width="1.9" stroke-linecap="round" fill="none"/><path d="M169.8 892.7V902.9M164.8 894.3L174.8 901.3M164.8 901.3L174.8 894.3" stroke="#a31414" stroke-width="1.9" stroke-linecap="round" fill="none"/><path d="M153.3 988.2V998.4M148.3 989.8L158.3 996.8M148.3 996.8L158.3 989.8" stroke="#ca8212" stroke-width="1.9" stroke-linecap="round" fill="none"/><path d="M160.7 970.4V980.6M155.7 972L165.7 979M155.7 979L165.7 972" stroke="#72a3d6" stroke-width="1.9" stroke-linecap="round" fill="none"/><path d="M71.2 966.2V976.4M66.2 967.8L76.2 974.8M66.2 974.8L76.2 967.8" stroke="#0f3870" stroke-width="1.9" stroke-linecap="round" fill="none"/><circle cx="82.5" cy="984.2" r="5.25" stroke="#000000" stroke-width="2" fill="none"/><circle cx="233.5" cy="854.2" r="5.25" stroke="#a31414" stroke-width="2" fill="none"/><circle cx="132.8" cy="960.2" r="5.25" stroke="#ca8212" stroke-width="2" fill="none"/><circle cx="185.1" cy="920.9" r="5.25" stroke="#72a3d6" stroke-width="2" fill="none"/><circle cx="156.8" cy="887.5" r="5.25" stroke="#0f3870" stroke-width="2" fill="none"/><rect x="138.55" y="973.95" width="10.3" height="10.3" stroke="#000000" stroke-width="1.9" fill="none"/><rect x="94.65" y="948.45" width="10.3" height="10.3" stroke="#a31414" stroke-width="1.9" fill="none"/><rect x="138.45" y="945.95" width="10.3" height="10.3" stroke="#ca8212" stroke-width="1.9" fill="none"/><rect x="193.05" y="952.85" width="10.3" height="10.3" stroke="#72a3d6" stroke-width="1.9" fill="none"/><path d="M50.4 1010H44.4M50.4 977.34H44.4M50.4 944.68H44.4M50.4 912.02H44.4M50.4 879.36H44.4M50.4 846.7H44.4M86.7 1025.3V1031.3M128.36 1025.3V1031.3M170.02 1025.3V1031.3M211.68 1025.3V1031.3M253.34 1025.3V1031.3" stroke="#000" stroke-width="2.0" fill="none"/><path d="M50.4 1023.06H47M50.4 1016.53H47M50.4 1010H47M50.4 1003.47H47M50.4 996.94H47M50.4 990.4H47M50.4 983.87H47M50.4 977.34H47M50.4 970.81H47M50.4 964.28H47M50.4 957.74H47M50.4 951.21H47M50.4 944.68H47M50.4 938.15H47M50.4 931.62H47M50.4 925.08H47M50.4 918.55H47M50.4 912.02H47M50.4 905.49H47M50.4 898.96H47M50.4 892.42H47M50.4 885.89H47M50.4 879.36H47M50.4 872.83H47M50.4 866.3H47M50.4 859.76H47M50.4 853.23H47M50.4 846.7H47M50.4 840.17H47M50.4 833.64H47M50.4 827.1H47M55.46 1025.3V1028.7M65.87 1025.3V1028.7M76.28 1025.3V1028.7M86.7 1025.3V1028.7M97.12 1025.3V1028.7M107.53 1025.3V1028.7M117.94 1025.3V1028.7M128.36 1025.3V1028.7M138.78 1025.3V1028.7M149.19 1025.3V1028.7M159.61 1025.3V1028.7M170.02 1025.3V1028.7M180.44 1025.3V1028.7M190.85 1025.3V1028.7M201.26 1025.3V1028.7M211.68 1025.3V1028.7M222.09 1025.3V1028.7M232.51 1025.3V1028.7M242.93 1025.3V1028.7M253.34 1025.3V1028.7" stroke="#000" stroke-width="1.15" fill="none"/><rect x="50.4" y="821.8" width="203.8" height="203.5" stroke="#000" stroke-width="1.9" fill="none"/><g fill="#000"><text x="37.9" y="1013.7" text-anchor="end" font-size="10.3">0.0</text><text x="37.9" y="981.04" text-anchor="end" font-size="10.3">1.0</text><text x="37.9" y="948.38" text-anchor="end" font-size="10.3">2.0</text><text x="37.9" y="915.72" text-anchor="end" font-size="10.3">3.0</text><text x="37.9" y="883.06" text-anchor="end" font-size="10.3">4.0</text><text x="37.9" y="850.4" text-anchor="end" font-size="10.3">5.0</text><text x="86.7" y="1046.2" text-anchor="middle" font-size="10.3">0.0</text><text x="128.36" y="1046.2" text-anchor="middle" font-size="10.3">2.0</text><text x="170.02" y="1046.2" text-anchor="middle" font-size="10.3">4.0</text><text x="211.68" y="1046.2" text-anchor="middle" font-size="10.3">6.0</text><text x="253.34" y="1046.2" text-anchor="middle" font-size="10.3">8.0</text></g><text x="152.3" y="1063.2" text-anchor="middle" font-size="12.4" fill="#000">P'</text><text transform="translate(15.3 923.55) rotate(-90)" x="0" y="0" text-anchor="middle" font-size="12.4" fill="#000">NL</text><text transform="translate(49.4 817.5) scale(0.976 1)" font-size="16.5" fill="#000">(g) SE</text><text transform="translate(255.4 817.5) scale(0.976 1)" text-anchor="end" font-size="16.5" fill="#000">r = 0.46 (p &lt; 0.05)</text><line x1="309.5" y1="986" x2="513.5" y2="902" stroke="#000" stroke-width="2.2" stroke-linecap="round"/><circle cx="425" cy="938.7" r="6" fill="#000000"/><path d="M432.4 933H442.6M437.5 927.9V938.1" stroke="#000000" stroke-width="1.9" stroke-linecap="round" fill="none"/><path d="M417.2 966.7H427.4M422.3 961.6V971.8" stroke="#a31414" stroke-width="1.9" stroke-linecap="round" fill="none"/><path d="M429.4 886.1H439.6M434.5 881V891.2" stroke="#ca8212" stroke-width="1.9" stroke-linecap="round" fill="none"/><path d="M429.4 932.8H439.6M434.5 927.7V937.9" stroke="#72a3d6" stroke-width="1.9" stroke-linecap="round" fill="none"/><path d="M478.5 966.2H488.7M483.6 961.1V971.3" stroke="#0f3870" stroke-width="1.9" stroke-linecap="round" fill="none"/><path d="M464.3 896.6V906.8M459.3 898.2L469.3 905.2M459.3 905.2L469.3 898.2" stroke="#000000" stroke-width="1.9" stroke-linecap="round" fill="none"/><path d="M436.8 898.3V908.5M431.8 899.9L441.8 906.9M431.8 906.9L441.8 899.9" stroke="#a31414" stroke-width="1.9" stroke-linecap="round" fill="none"/><path d="M434.3 946V956.2M429.3 947.6L439.3 954.6M429.3 954.6L439.3 947.6" stroke="#ca8212" stroke-width="1.9" stroke-linecap="round" fill="none"/><path d="M478 928.2V938.4M473 929.8L483 936.8M473 936.8L483 929.8" stroke="#72a3d6" stroke-width="1.9" stroke-linecap="round" fill="none"/><path d="M339.4 961.2V971.4M334.4 962.8L344.4 969.8M334.4 969.8L344.4 962.8" stroke="#0f3870" stroke-width="1.9" stroke-linecap="round" fill="none"/><circle cx="359.8" cy="972.2" r="5.25" stroke="#000000" stroke-width="2" fill="none"/><circle cx="447.6" cy="940.1" r="5.25" stroke="#a31414" stroke-width="2" fill="none"/><circle cx="392.8" cy="979.4" r="5.25" stroke="#ca8212" stroke-width="2" fill="none"/><circle cx="445.9" cy="907.2" r="5.25" stroke="#72a3d6" stroke-width="2" fill="none"/><circle cx="428.3" cy="867.4" r="5.25" stroke="#0f3870" stroke-width="2" fill="none"/><rect x="402.45" y="963.15" width="10.3" height="10.3" stroke="#000000" stroke-width="1.9" fill="none"/><rect x="390.25" y="963.45" width="10.3" height="10.3" stroke="#a31414" stroke-width="1.9" fill="none"/><rect x="391.15" y="956.55" width="10.3" height="10.3" stroke="#ca8212" stroke-width="1.9" fill="none"/><rect x="434.75" y="927.25" width="10.3" height="10.3" stroke="#72a3d6" stroke-width="1.9" fill="none"/><path d="M309.4 1010.2H303.4M309.4 964.13H303.4M309.4 918.06H303.4M309.4 871.99H303.4M309.4 825.92H303.4M337.2 1025.3V1031.3M367.55 1025.3V1031.3M397.9 1025.3V1031.3M428.25 1025.3V1031.3M458.6 1025.3V1031.3M488.95 1025.3V1031.3" stroke="#000" stroke-width="2.0" fill="none"/><path d="M309.4 1019.41H306M309.4 1010.2H306M309.4 1000.99H306M309.4 991.77H306M309.4 982.56H306M309.4 973.34H306M309.4 964.13H306M309.4 954.92H306M309.4 945.7H306M309.4 936.49H306M309.4 927.27H306M309.4 918.06H306M309.4 908.85H306M309.4 899.63H306M309.4 890.42H306M309.4 881.2H306M309.4 871.99H306M309.4 862.78H306M309.4 853.56H306M309.4 844.35H306M309.4 835.13H306M309.4 825.92H306M312.92 1025.3V1028.7M318.99 1025.3V1028.7M325.06 1025.3V1028.7M331.13 1025.3V1028.7M337.2 1025.3V1028.7M343.27 1025.3V1028.7M349.34 1025.3V1028.7M355.41 1025.3V1028.7M361.48 1025.3V1028.7M367.55 1025.3V1028.7M373.62 1025.3V1028.7M379.69 1025.3V1028.7M385.76 1025.3V1028.7M391.83 1025.3V1028.7M397.9 1025.3V1028.7M403.97 1025.3V1028.7M410.04 1025.3V1028.7M416.11 1025.3V1028.7M422.18 1025.3V1028.7M428.25 1025.3V1028.7M434.32 1025.3V1028.7M440.39 1025.3V1028.7M446.46 1025.3V1028.7M452.53 1025.3V1028.7M458.6 1025.3V1028.7M464.67 1025.3V1028.7M470.74 1025.3V1028.7M476.81 1025.3V1028.7M482.88 1025.3V1028.7M488.95 1025.3V1028.7M495.02 1025.3V1028.7M501.09 1025.3V1028.7M507.16 1025.3V1028.7M513.23 1025.3V1028.7" stroke="#000" stroke-width="1.15" fill="none"/><rect x="309.4" y="821.6" width="204.1" height="203.7" stroke="#000" stroke-width="1.9" fill="none"/><g fill="#000"><text x="296.9" y="1013.9" text-anchor="end" font-size="10.3">0.0</text><text x="296.9" y="967.83" text-anchor="end" font-size="10.3">1.0</text><text x="296.9" y="921.76" text-anchor="end" font-size="10.3">2.0</text><text x="296.9" y="875.69" text-anchor="end" font-size="10.3">3.0</text><text x="296.9" y="829.62" text-anchor="end" font-size="10.3">4.0</text><text x="337.2" y="1045.7" text-anchor="middle" font-size="10.3">1.00</text><text x="367.55" y="1045.7" text-anchor="middle" font-size="10.3">2.00</text><text x="397.9" y="1045.7" text-anchor="middle" font-size="10.3">3.00</text><text x="428.25" y="1045.7" text-anchor="middle" font-size="10.3">4.00</text><text x="458.6" y="1045.7" text-anchor="middle" font-size="10.3">5.00</text><text x="488.95" y="1045.7" text-anchor="middle" font-size="10.3">6.00</text></g><text x="411.45" y="1062.7" text-anchor="middle" font-size="12.4" fill="#000">P'</text><text transform="translate(274.3 923.45) rotate(-90)" x="0" y="0" text-anchor="middle" font-size="12.4" fill="#000">NL</text><text transform="translate(308.4 817.5) scale(0.976 1)" font-size="16.5" fill="#000">(h) NE</text><text transform="translate(514.7 817.5) scale(0.976 1)" text-anchor="end" font-size="16.5" fill="#000">r = 0.47 (p &lt; 0.05)</text><circle cx="554.3" cy="283.5" r="5.4" fill="#000000"/><text transform="translate(582 287.9) scale(1.0 1)" font-size="12.7" fill="#000">MME</text><path d="M549.71 305.62H558.89M554.3 301.03V310.21" stroke="#000000" stroke-width="1.71" stroke-linecap="round" fill="none"/><text transform="translate(582 310.02) scale(1.0 1)" font-size="12.7" fill="#000">ACCESS-CM2</text><path d="M549.71 327.74H558.89M554.3 323.15V332.33" stroke="#a31414" stroke-width="1.71" stroke-linecap="round" fill="none"/><text transform="translate(582 332.14) scale(1.0 1)" font-size="12.7" fill="#000">ACCESS-ESM1-5</text><path d="M549.71 349.86H558.89M554.3 345.27V354.45" stroke="#ca8212" stroke-width="1.71" stroke-linecap="round" fill="none"/><text transform="translate(582 354.26) scale(1.0 1)" font-size="12.7" fill="#000">AWI-CM-1-1-MR</text><path d="M549.71 371.98H558.89M554.3 367.39V376.57" stroke="#72a3d6" stroke-width="1.71" stroke-linecap="round" fill="none"/><text transform="translate(582 376.38) scale(1.0 1)" font-size="12.7" fill="#000">BCC-CSM2-MR</text><path d="M549.71 394.1H558.89M554.3 389.51V398.69" stroke="#0f3870" stroke-width="1.71" stroke-linecap="round" fill="none"/><text transform="translate(582 398.5) scale(1.0 1)" font-size="12.7" fill="#000">CAMS-CSM1-0</text><path d="M554.3 411.63V420.81M549.8 413.07L558.8 419.37M549.8 419.37L558.8 413.07" stroke="#000000" stroke-width="1.71" stroke-linecap="round" fill="none"/><text transform="translate(582 420.62) scale(1.0 1)" font-size="12.7" fill="#000">CanESM5</text><path d="M554.3 433.75V442.93M549.8 435.19L558.8 441.49M549.8 441.49L558.8 435.19" stroke="#a31414" stroke-width="1.71" stroke-linecap="round" fill="none"/><text transform="translate(582 442.74) scale(1.0 1)" font-size="12.7" fill="#000">CMCC-CM2-SR5</text><path d="M554.3 455.87V465.05M549.8 457.31L558.8 463.61M549.8 463.61L558.8 457.31" stroke="#ca8212" stroke-width="1.71" stroke-linecap="round" fill="none"/><text transform="translate(582 464.86) scale(1.0 1)" font-size="12.7" fill="#000">EC-Earth3</text><path d="M554.3 477.99V487.17M549.8 479.43L558.8 485.73M549.8 485.73L558.8 479.43" stroke="#72a3d6" stroke-width="1.71" stroke-linecap="round" fill="none"/><text transform="translate(582 486.98) scale(1.0 1)" font-size="12.7" fill="#000">EC-Earth3-Veg</text><path d="M554.3 500.11V509.29M549.8 501.55L558.8 507.85M549.8 507.85L558.8 501.55" stroke="#0f3870" stroke-width="1.71" stroke-linecap="round" fill="none"/><text transform="translate(582 509.1) scale(1.0 1)" font-size="12.7" fill="#000">INM-CM4-8</text><circle cx="554.3" cy="526.82" r="4.73" stroke="#000000" stroke-width="1.8" fill="none"/><text transform="translate(582 531.22) scale(1.0 1)" font-size="12.7" fill="#000">INM-CM5-0</text><circle cx="554.3" cy="548.94" r="4.73" stroke="#a31414" stroke-width="1.8" fill="none"/><text transform="translate(582 553.34) scale(1.0 1)" font-size="12.7" fill="#000">IPSL-CM6A-LR</text><circle cx="554.3" cy="571.06" r="4.73" stroke="#ca8212" stroke-width="1.8" fill="none"/><text transform="translate(582 575.46) scale(1.0 1)" font-size="12.7" fill="#000">MIROC6</text><circle cx="554.3" cy="593.18" r="4.73" stroke="#72a3d6" stroke-width="1.8" fill="none"/><text transform="translate(582 597.58) scale(1.0 1)" font-size="12.7" fill="#000">MPI-ESM1-2-HR</text><circle cx="554.3" cy="615.3" r="4.73" stroke="#0f3870" stroke-width="1.8" fill="none"/><text transform="translate(582 619.7) scale(1.0 1)" font-size="12.7" fill="#000">MPI-ESM1-2-LR</text><rect x="549.66" y="632.79" width="9.27" height="9.27" stroke="#000000" stroke-width="1.71" fill="none"/><text transform="translate(582 641.82) scale(1.0 1)" font-size="12.7" fill="#000">MRI-ESM2-0</text><rect x="549.66" y="654.9" width="9.27" height="9.27" stroke="#a31414" stroke-width="1.71" fill="none"/><text transform="translate(582 663.94) scale(1.0 1)" font-size="12.7" fill="#000">NorESM2-LM</text><rect x="549.66" y="677.03" width="9.27" height="9.27" stroke="#ca8212" stroke-width="1.71" fill="none"/><text transform="translate(582 686.06) scale(1.0 1)" font-size="12.7" fill="#000">NorESM2-MM</text><rect x="549.66" y="699.14" width="9.27" height="9.27" stroke="#72a3d6" stroke-width="1.71" fill="none"/><text transform="translate(582 708.18) scale(1.0 1)" font-size="12.7" fill="#000">TaiESM1</text><circle cx="148.6" cy="537.2" r="0.9" fill="#222"/><circle cx="407.2" cy="536.8" r="0.9" fill="#222"/></svg></body></html>
